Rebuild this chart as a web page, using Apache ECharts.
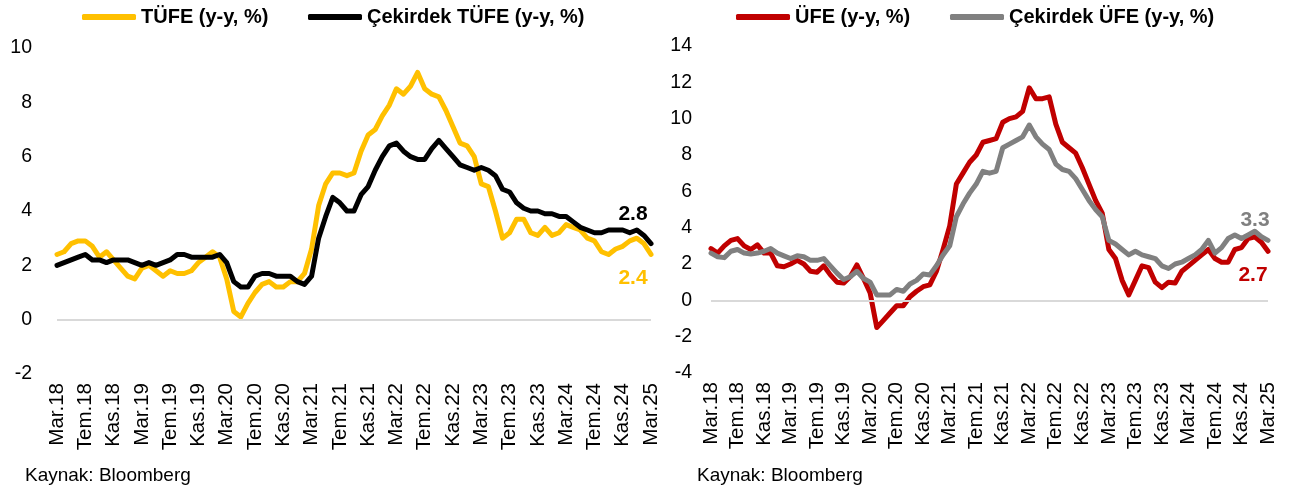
<!DOCTYPE html>
<html>
<head>
<meta charset="utf-8">
<script src="https://cdn.jsdelivr.net/npm/echarts@6/dist/echarts.min.js"></script>
<style>
  html, body { margin: 0; padding: 0; background: #fff; }
  #chart { width: 1301px; height: 495px; }
</style>
</head>
<body>
<div id="chart"></div>
<script>
// aylar: Mar.18 - Mar.25
const monthNames = ['Oca', 'Şub', 'Mar', 'Nis', 'May', 'Haz', 'Tem', 'Ağu', 'Eyl', 'Eki', 'Kas', 'Ara']
const categories = []
for (let i = 0; i < 85; i++) {
  const m = (2 + i) % 12
  const y = 18 + Math.floor((2 + i) / 12)
  categories.push(monthNames[m] + '.' + y)
}

// sol grafik
const tufe = [
  2.4, 2.5, 2.8, 2.9, 2.9, 2.7, 2.3, 2.5, 2.2, 1.9,
  1.6, 1.5, 1.9, 2.0, 1.8, 1.6, 1.8, 1.7, 1.7, 1.8, 2.1, 2.3,
  2.5, 2.3, 1.5, 0.3, 0.1, 0.6, 1.0, 1.3, 1.4, 1.2, 1.2, 1.4,
  1.4, 1.7, 2.6, 4.2, 5.0, 5.4, 5.4, 5.3, 5.4, 6.2, 6.8, 7.0,
  7.5, 7.9, 8.5, 8.3, 8.6, 9.1, 8.5, 8.3, 8.2, 7.7, 7.1, 6.5,
  6.4, 6.0, 5.0, 4.9, 4.0, 3.0, 3.2, 3.7, 3.7, 3.2, 3.1, 3.4,
  3.1, 3.2, 3.5, 3.4, 3.3, 3.0, 2.9, 2.5, 2.4, 2.6, 2.7, 2.9,
  3.0, 2.8, 2.4
]
const cekirdekTufe = [
  2.0, 2.1, 2.2, 2.3, 2.4, 2.2, 2.2, 2.1, 2.2, 2.2,
  2.2, 2.1, 2.0, 2.1, 2.0, 2.1, 2.2, 2.4, 2.4, 2.3, 2.3, 2.3,
  2.3, 2.4, 2.1, 1.4, 1.2, 1.2, 1.6, 1.7, 1.7, 1.6, 1.6, 1.6,
  1.4, 1.3, 1.6, 3.0, 3.8, 4.5, 4.3, 4.0, 4.0, 4.6, 4.9, 5.5,
  6.0, 6.4, 6.5, 6.2, 6.0, 5.9, 5.9, 6.3, 6.6, 6.3, 6.0, 5.7,
  5.6, 5.5, 5.6, 5.5, 5.3, 4.8, 4.7, 4.3, 4.1, 4.0, 4.0, 3.9,
  3.9, 3.8, 3.8, 3.6, 3.4, 3.3, 3.2, 3.2, 3.3, 3.3, 3.3, 3.2,
  3.3, 3.1, 2.8
]

// sag grafik
const ufe = [
  2.85, 2.6, 3.0, 3.3, 3.4, 3.0, 2.8, 3.05, 2.6, 2.6,
  1.9, 1.85, 2.0, 2.2, 2.0, 1.6, 1.55, 1.9, 1.4, 1.0, 0.95, 1.3,
  1.95, 1.2, 0.4, -1.5, -1.1, -0.7, -0.3, -0.3, 0.2, 0.5, 0.75, 0.85,
  1.6, 2.8, 4.1, 6.4, 7.0, 7.6, 8.0, 8.7, 8.8, 8.9, 9.8, 10.0,
  10.1, 10.4, 11.7, 11.1, 11.1, 11.2, 9.7, 8.7, 8.4, 8.1, 7.3, 6.4,
  5.5, 4.8, 2.8, 2.3, 1.1, 0.3, 1.1, 1.9, 1.8, 1.0, 0.7, 1.0,
  0.95, 1.6, 1.9, 2.2, 2.5, 2.8, 2.3, 2.1, 2.1, 2.8, 2.9, 3.4,
  3.5, 3.2, 2.7
]
const cekirdekUfe = [
  2.6, 2.4, 2.35, 2.7, 2.8, 2.6, 2.55, 2.6, 2.7, 2.85,
  2.6, 2.45, 2.3, 2.45, 2.4, 2.2, 2.2, 2.3, 1.9, 1.5, 1.15, 1.3,
  1.6, 1.2, 1.0, 0.3, 0.3, 0.3, 0.6, 0.5, 0.9, 1.1, 1.45, 1.4,
  1.9, 2.5, 3.0, 4.6, 5.3, 5.9, 6.4, 7.1, 7.0, 7.1, 8.4, 8.6,
  8.8, 9.0, 9.65, 9.0, 8.6, 8.3, 7.5, 7.2, 7.1, 6.7, 6.1, 5.5,
  5.0, 4.6, 3.3, 3.1, 2.8, 2.5, 2.7, 2.5, 2.4, 2.3, 1.9, 1.75,
  2.0, 2.1, 2.3, 2.5, 2.8, 3.3, 2.6, 2.9, 3.4, 3.6, 3.4, 3.6,
  3.8, 3.5, 3.3
]

const FONT = '"Liberation Sans", Arial, sans-serif'

const myChart = echarts.init(document.getElementById('chart'), null, { renderer: 'canvas' })

const legendItem = (name, left) => ({
  data: [name],
  left,
  top: 7,
  padding: 0,
  icon: 'roundRect',
  itemWidth: 54,
  itemHeight: 6,
  itemGap: 0,
  selectedMode: false,
  textStyle: { color: '#000', fontSize: 20, fontWeight: 'bold', fontFamily: FONT }
})

const xAxisItem = (gridIndex) => ({
  type: 'category',
  gridIndex,
  data: categories,
  boundaryGap: false,
  axisLine: { show: false },
  axisTick: { show: false },
  axisLabel: {
    interval: 3,
    rotate: 90,
    margin: 9,
    color: '#000',
    fontSize: 20.5,
    fontFamily: FONT
  },
  splitLine: { show: false }
})

const yAxisItem = (gridIndex, min, max, margin) => ({
  type: 'value',
  gridIndex,
  min,
  max,
  interval: 2,
  axisLine: { show: false },
  axisTick: { show: false },
  splitLine: { show: false },
  axisLabel: { color: '#000', fontSize: 19.5, fontFamily: FONT, margin }
})

// sifir cizgisi
const zeroLine = {
  silent: true,
  symbol: 'none',
  label: { show: false },
  lineStyle: { color: '#d9d9d9', width: 2, type: 'solid' },
  data: [{ yAxis: 0 }]
}

const lineSeries = (name, data, color, idx, offset, extra) => Object.assign({
  name,
  type: 'line',
  data,
  xAxisIndex: idx,
  yAxisIndex: idx,
  symbol: 'none',
  smooth: false,
  lineStyle: { color, width: 5, cap: 'round', join: 'round' },
  itemStyle: { color },
  endLabel: {
    show: true,
    formatter: p => Number(p.value).toFixed(1),
    color,
    fontSize: 21,
    fontWeight: 'bold',
    fontFamily: FONT,
    align: 'center',
    verticalAlign: 'middle',
    distance: 0,
    offset
  }
}, extra)

const option = {
  animation: false,
  backgroundColor: '#fff',
  legend: [
    legendItem('TÜFE (y-y, %)', 82),
    legendItem('Çekirdek TÜFE (y-y, %)', 308),
    legendItem('ÜFE (y-y, %)', 736),
    legendItem('Çekirdek ÜFE (y-y, %)', 950)
  ],
  grid: [
    { left: 57, right: 650, top: 48, bottom: 121 },
    { left: 711, right: 33, top: 46, bottom: 122 }
  ],
  xAxis: [xAxisItem(0), xAxisItem(1)],
  yAxis: [yAxisItem(0, -2, 10, 25), yAxisItem(1, -4, 14, 19)],
  series: [
    lineSeries('TÜFE (y-y, %)', tufe, '#FFC000', 0, [-18, 24], { markLine: zeroLine, z: 2 }),
    lineSeries('Çekirdek TÜFE (y-y, %)', cekirdekTufe, '#000000', 0, [-18, -29], { z: 3 }),
    lineSeries('ÜFE (y-y, %)', ufe, '#C00000', 1, [-15, 24], { markLine: zeroLine, z: 2 }),
    lineSeries('Çekirdek ÜFE (y-y, %)', cekirdekUfe, '#808080', 1, [-13, -20], { z: 3 })
  ],
  graphic: [
    { type: 'text', left: 25, top: 466, style: { text: 'Kaynak: Bloomberg', fill: '#000', font: '19px ' + FONT } },
    { type: 'text', left: 697, top: 466, style: { text: 'Kaynak: Bloomberg', fill: '#000', font: '19px ' + FONT } }
  ]
}

myChart.setOption(option)
window.addEventListener('resize', () => myChart.resize(), false)
</script>
</body>
</html>
